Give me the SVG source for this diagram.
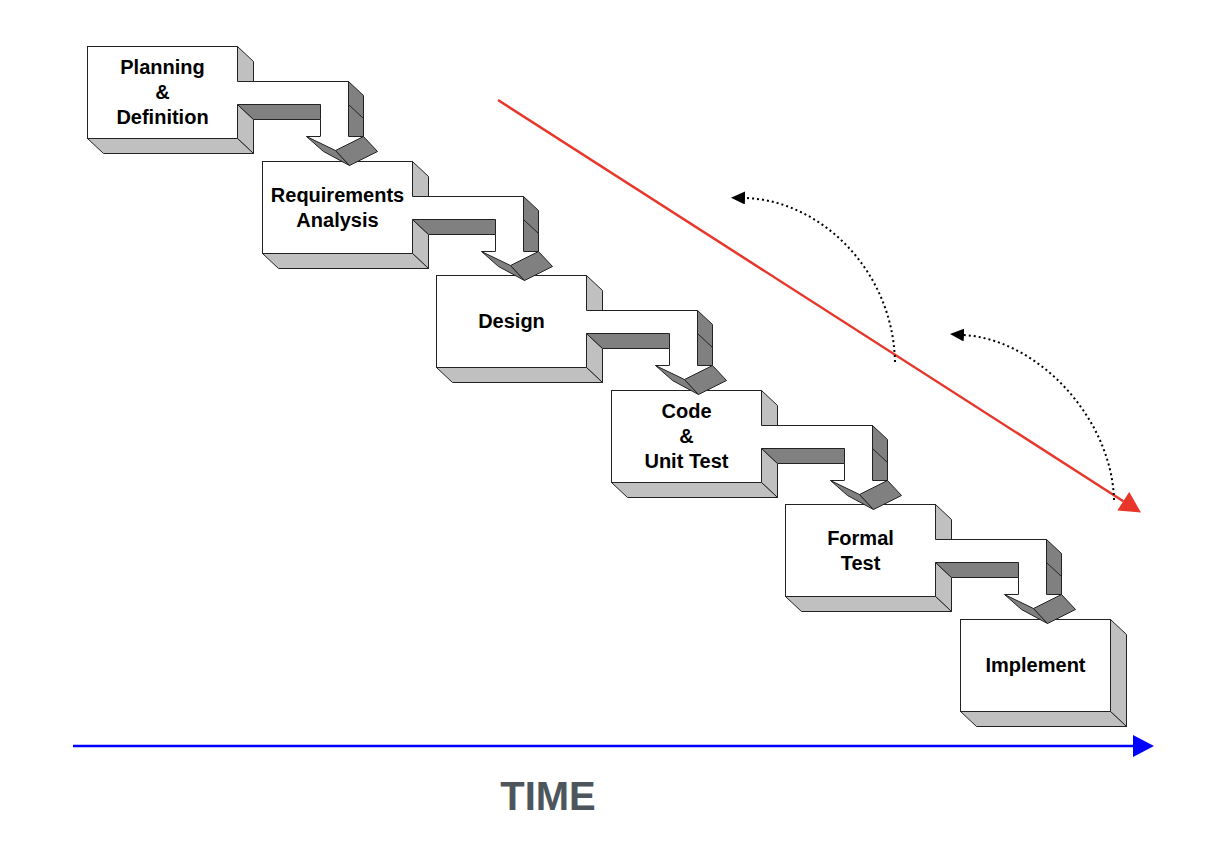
<svg xmlns="http://www.w3.org/2000/svg" xmlns:xlink="http://www.w3.org/1999/xlink" width="1216" height="842" viewBox="0 0 1216 842">
<style>
.front{fill:#ffffff;stroke:#222;stroke-width:1}
.side{fill:#c0c0c0;stroke:#222;stroke-width:1;stroke-linejoin:miter}
.dark{fill:#808080;stroke:#222;stroke-width:1}
.edge{fill:none;stroke:#222;stroke-width:1}
.lbl{font-family:"Liberation Sans",Arial,sans-serif;font-weight:bold;font-size:20px;text-anchor:middle;fill:#000}
.dots{fill:none;stroke:#000;stroke-width:2;stroke-dasharray:2 3}
</style>
<defs>
<g id="blockP">
<rect class="front" x="0" y="0" width="150" height="92"/>
<polygon class="side" points="150,0 166,15 166,35 150,35"/>
<polygon class="side" points="150,58 166,73 166,107 150,92"/>
<polygon class="side" points="0,92 150,92 166,107 16,107"/>
</g>
<g id="blockE">
<rect class="front" x="0" y="0" width="150" height="92"/>
<polygon class="side" points="150,0 166,15 166,107 150,92"/>
<polygon class="side" points="0,92 150,92 166,107 16,107"/>
</g>
<g id="pipe">
<polygon fill="#fff" points="149.5,35 261,35 261,90 233,90 233,58 149.5,58"/>
<polygon class="dark" points="150,58 233,58 233,73 166,73"/>
<polyline class="edge" points="150,35 261,35 261,90"/>
<line class="edge" x1="233" y1="73" x2="233" y2="90"/>
<polygon class="dark" points="261,35 276,49 276,90 261,90"/>
<line class="edge" x1="261" y1="58" x2="276" y2="72"/>
<polygon fill="#fff" points="219,90 276,90 248,104"/>
<line class="edge" x1="219" y1="90" x2="233" y2="90"/>
<line class="edge" x1="261" y1="90" x2="276" y2="90"/>
<polygon class="dark" points="219,90 248,104 262,119 236,105"/>
<polygon class="dark" points="248,104 276,90 290,105 262,119"/>
</g>
<marker id="redHead" markerUnits="userSpaceOnUse" markerWidth="22" markerHeight="22" viewBox="0 0 21 22" refX="0" refY="11" orient="auto">
<path d="M0,0 L21,11 L0,22 Z" fill="#e8372a"/>
</marker>
<marker id="blueHead" markerUnits="userSpaceOnUse" markerWidth="22" markerHeight="22" viewBox="0 0 21 22" refX="0" refY="11" orient="auto">
<path d="M0,0 L21,11 L0,22 Z" fill="#0000ff"/>
</marker>
<marker id="blackHead" markerUnits="userSpaceOnUse" markerWidth="14" markerHeight="13" viewBox="0 0 14 13" refX="0" refY="6.5" orient="auto">
<path d="M0,0 L14,6.5 L0,13 Z" fill="#000"/>
</marker>
</defs>

<g id="node-planning" transform="translate(87.5,46.5)">
<use href="#blockP"/>
<text class="lbl" x="75" y="27">Planning</text>
<text class="lbl" x="75" y="52">&amp;</text>
<text class="lbl" x="75" y="77">Definition</text>
</g>
<g id="node-requirements" transform="translate(262.5,161.5)">
<use href="#blockP"/>
<text class="lbl" x="75" y="40">Requirements</text>
<text class="lbl" x="75" y="65">Analysis</text>
</g>
<g id="node-design" transform="translate(436.5,275.5)">
<use href="#blockP"/>
<text class="lbl" x="75" y="52">Design</text>
</g>
<g id="node-code" transform="translate(611.5,390.5)">
<use href="#blockP"/>
<text class="lbl" x="75" y="27">Code</text>
<text class="lbl" x="75" y="52">&amp;</text>
<text class="lbl" x="75" y="77">Unit Test</text>
</g>
<g id="node-formal" transform="translate(785.5,504.5)">
<use href="#blockP"/>
<text class="lbl" x="75" y="40">Formal</text>
<text class="lbl" x="75" y="65">Test</text>
</g>
<g id="node-implement" transform="translate(960.5,619.5)">
<use href="#blockE"/>
<text class="lbl" x="75" y="52">Implement</text>
</g>

<g id="connectors">
<use href="#pipe" transform="translate(87.5,46.5)"/>
<use href="#pipe" transform="translate(262.5,161.5)"/>
<use href="#pipe" transform="translate(436.5,275.5)"/>
<use href="#pipe" transform="translate(611.5,390.5)"/>
<use href="#pipe" transform="translate(785.5,504.5)"/>
<line x1="498" y1="100" x2="1123.3" y2="501.2" stroke="#e8372a" stroke-width="2.5" marker-end="url(#redHead)"/>
<path class="dots" d="M895,362 C893,270 820,200 745,198" marker-end="url(#blackHead)"/>
<path class="dots" d="M1114,500 C1112,420 1040,340 964,335" marker-end="url(#blackHead)"/>
<line x1="73" y1="746" x2="1133" y2="746" stroke="#0000ff" stroke-width="2.5" marker-end="url(#blueHead)"/>
</g>

<text x="548" y="810" font-family="'Liberation Sans',Arial,sans-serif" font-weight="bold" font-size="40" fill="#4d565c" text-anchor="middle">TIME</text>
</svg>
